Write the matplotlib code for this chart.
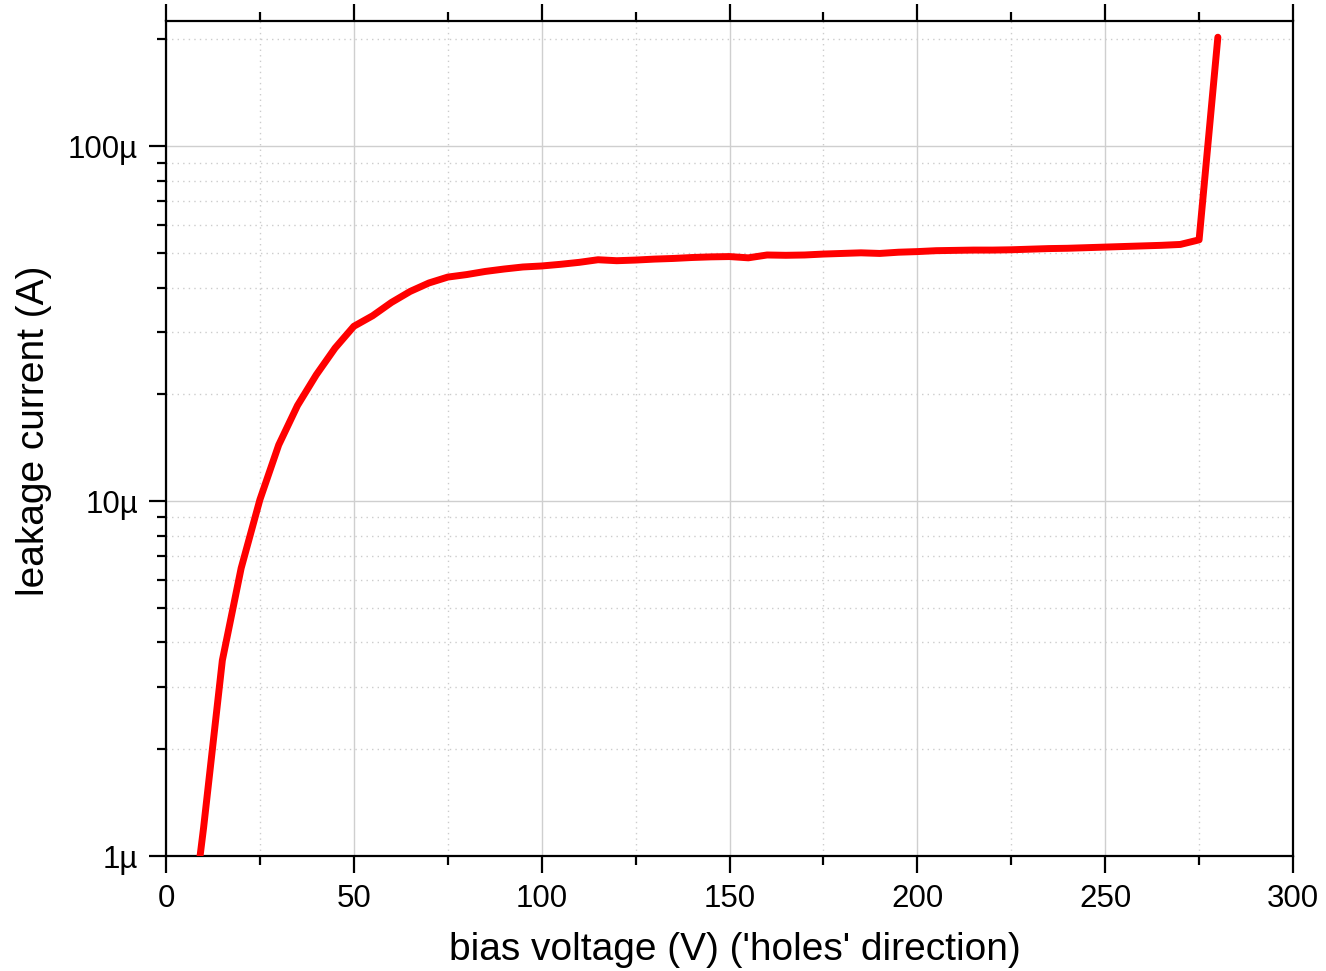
import matplotlib
matplotlib.use("Agg")
import matplotlib.pyplot as plt
from matplotlib.ticker import MultipleLocator, LogLocator, FuncFormatter, NullFormatter

plt.rcParams['font.family'] = ['Liberation Sans', 'DejaVu Sans']

# tension de polarisation (V) et courant de fuite (µA)
bias_voltage = [5, 10, 15, 20, 25, 30, 35, 40, 45, 50, 55, 60, 65, 70, 75,
                80, 85, 90, 95, 100, 105, 110, 115, 120, 125, 130, 135, 140,
                145, 150, 155, 160, 165, 170, 175, 180, 185, 190, 195, 200,
                205, 210, 215, 220, 225, 230, 235, 240, 245, 250, 255, 260,
                265, 270, 275, 280]
leakage_uA = [0.45, 1.2, 3.56, 6.47, 10.1, 14.4, 18.6, 22.7, 27.0, 31.1, 33.3,
              36.3, 39.0, 41.2, 42.8, 43.5, 44.4, 45.1, 45.7, 46.0, 46.5, 47.1,
              47.9, 47.6, 47.8, 48.1, 48.3, 48.6, 48.8, 48.9, 48.5, 49.4, 49.3,
              49.4, 49.7, 49.9, 50.1, 49.9, 50.3, 50.5, 50.8, 50.9, 51.0, 51.0,
              51.1, 51.3, 51.5, 51.6, 51.8, 52.0, 52.2, 52.4, 52.6, 52.9, 54.5,
              203.0]
leakage_current = [v * 1e-6 for v in leakage_uA]

fig = plt.figure(figsize=(13.26, 9.71), dpi=100)
ax = fig.add_axes([166 / 1326, 1 - 856 / 971, 1127 / 1326, 835 / 971])

ax.plot(bias_voltage, leakage_current, color='red', lw=5,
        solid_joinstyle='round', solid_capstyle='round', zorder=3)

ax.set_yscale('log')
ax.set_xlim(0, 300)
ax.set_ylim(1e-6, 2.255e-4)

ax.xaxis.set_major_locator(MultipleLocator(50))
ax.xaxis.set_minor_locator(MultipleLocator(25))
ax.yaxis.set_major_locator(LogLocator(base=10))
ax.yaxis.set_minor_locator(LogLocator(base=10, subs=range(2, 10)))
ax.yaxis.set_major_formatter(FuncFormatter(lambda v, p: f"{v * 1e6:g}µ"))
ax.yaxis.set_minor_formatter(NullFormatter())

ax.grid(which='major', color='#cfcfcf', lw=1.0, ls='-')
ax.grid(which='minor', color='#cccccc', lw=1.0, ls=(0, (1, 3)))
ax.set_axisbelow(True)

ax.tick_params(which='both', direction='out', top=True, right=False,
               labeltop=False, width=1.6, colors='black', labelsize=22.5, pad=8)
ax.tick_params(which='major', length=12)
ax.tick_params(which='minor', length=6.5)
for s in ax.spines.values():
    s.set_linewidth(1.6)

ax.set_xlabel("bias voltage (V) ('holes' direction)", fontsize=28)
ax.set_ylabel("leakage current (A)", fontsize=28)
ax.xaxis.set_label_coords(0.5044, -0.0905)
ax.yaxis.set_label_coords(-0.101, 0.509)

fig.savefig("out.png", dpi=100)
